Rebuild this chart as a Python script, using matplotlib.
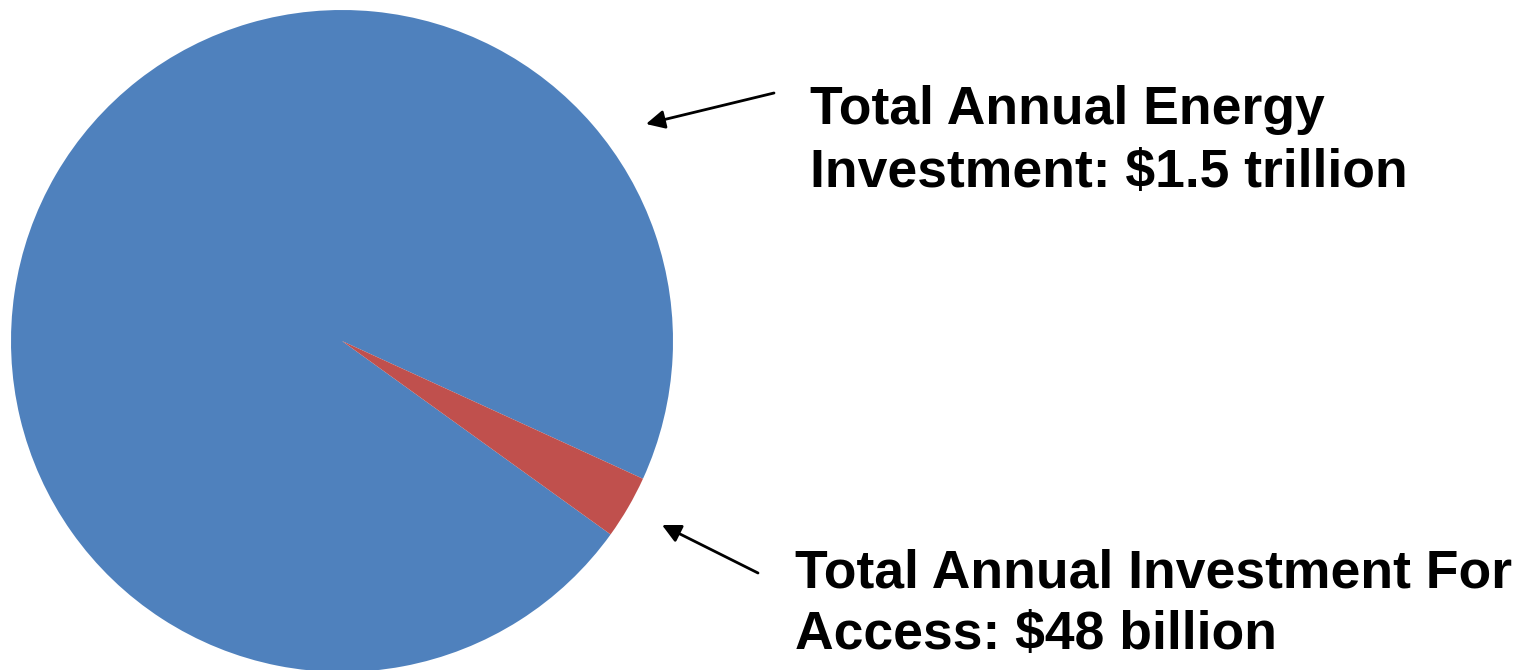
import matplotlib
matplotlib.use("Agg")
import matplotlib.pyplot as plt

# annual investment, billions of USD
values = [1500, 48]
colors = ["#4F81BD", "#C0504D"]
labels = [
    ["Total Annual Energy", "Investment: $1.5 trillion"],
    ["Total Annual Investment For", "Access: $48 billion"],
]

W, H = 1519, 670

fig = plt.figure(figsize=(W / 100, H / 100), dpi=100)
ax = fig.add_axes([0, 0, 1, 1])

ax.pie(values, colors=colors, startangle=-24.6, radius=331,
       center=(342, H - 341), frame=True,
       wedgeprops=dict(linewidth=0))
ax.set_xlim(0, W)
ax.set_ylim(0, H)
ax.axis("off")

# label text, one line at a time (left x, baselines in pixels from top)
text_pos = [(810, [124, 187]), (795, [587, 649])]
for lines, (x, baselines) in zip(labels, text_pos):
    for line, yb in zip(lines, baselines):
        ax.text(x, H - yb, line, fontsize=38.5, fontweight="bold",
                family="Liberation Sans", ha="left", va="baseline")

# arrows from the labels to the pie
arrows = [((774, 93), (646, 124)), ((758, 573), (662, 525))]
for tail, tip in arrows:
    ax.annotate("", xy=(tip[0], H - tip[1]), xytext=(tail[0], H - tail[1]),
                arrowprops=dict(arrowstyle="-|>", lw=2, color="black",
                                mutation_scale=28, shrinkA=0, shrinkB=0))

fig.savefig("out.png", dpi=100)
